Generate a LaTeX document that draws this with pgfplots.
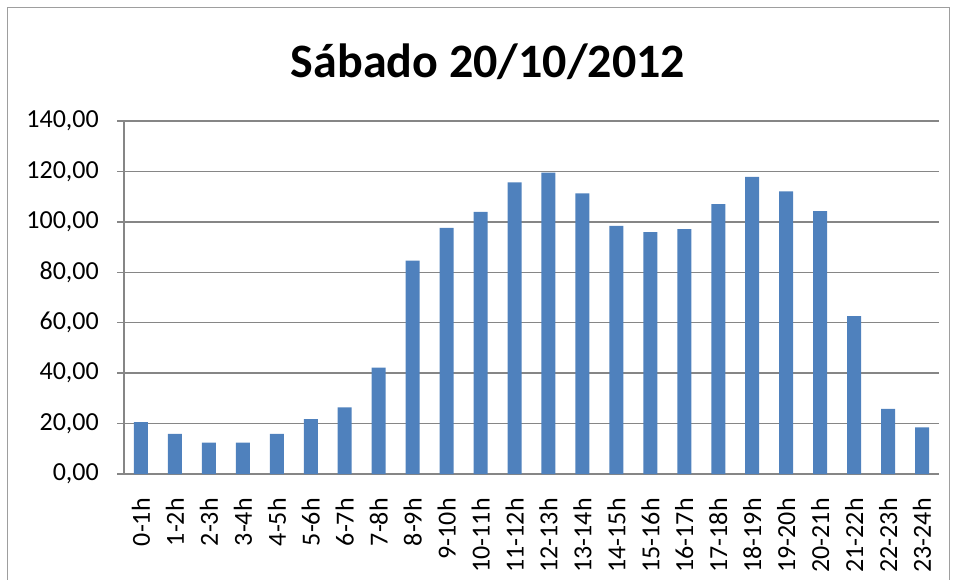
\documentclass[border=0pt]{standalone}
\usepackage{pgfplots}
\pgfplotsset{compat=1.18}
\usepackage{fontspec}
\setmainfont{Carlito}
\definecolor{barblue}{HTML}{4F81BD}
\definecolor{gridgray}{HTML}{868686}
\begin{document}
\begin{tikzpicture}
\useasboundingbox (0,0) rectangle (956pt,579pt);
\draw[gridgray!80, line width=1pt] (7pt,-20pt) -- (7pt,571pt) -- (949pt,571pt) -- (949pt,-20pt);
\node[anchor=base, font=\fontsize{48}{56}\selectfont\bfseries] at (488pt,501pt) {Sábado 20/10/2012};
\begin{axis}[
  at={(124pt,105pt)}, anchor=south west,
  scale only axis, width=815pt, height=353pt,
  xmin=-0.5, xmax=23.5, ymin=0, ymax=140,
  ytick={0,20,...,140},
  ymajorgrids, grid style={gridgray, line width=1.5pt},
  axis x line*=bottom, axis y line*=left,
  axis line style={gridgray, line width=1.5pt, -},
  tick style={gridgray, line width=1.5pt},
  tick align=outside,
  major tick length=7pt,
  xtick={0,...,23},
  xticklabels={0-1h,1-2h,2-3h,3-4h,4-5h,5-6h,6-7h,7-8h,8-9h,9-10h,10-11h,11-12h,12-13h,13-14h,14-15h,15-16h,16-17h,17-18h,18-19h,19-20h,20-21h,21-22h,22-23h,23-24h},
  xtick style={draw=none},
  extra x ticks={-0.5,0.5,...,23.5},
  extra x tick labels={},
  extra x tick style={grid=none, tick style={draw=gridgray, line width=1.5pt}},
  tick label style={font=\fontsize{26}{31}\selectfont},
  xticklabel style={rotate=90, anchor=east, inner sep=0pt, xshift=-17pt},
  yticklabel style={inner sep=0pt, xshift=-18pt},
  /pgf/number format/.cd, fixed, fixed zerofill, precision=2, use comma, assume math mode=true,
]
\addplot[ybar, bar width=14pt, fill=barblue, draw=none] coordinates {
(0,20.6) (1,15.9) (2,12.4) (3,12.4) (4,15.9) (5,21.8) (6,26.4) (7,42.2)
(8,84.6) (9,97.6) (10,104.0) (11,115.7) (12,119.5) (13,111.3) (14,98.4) (15,95.9)
(16,97.1) (17,107.0) (18,117.8) (19,112.1) (20,104.3) (21,62.6) (22,25.8) (23,18.5)
};
\end{axis}
\end{tikzpicture}
\end{document}
